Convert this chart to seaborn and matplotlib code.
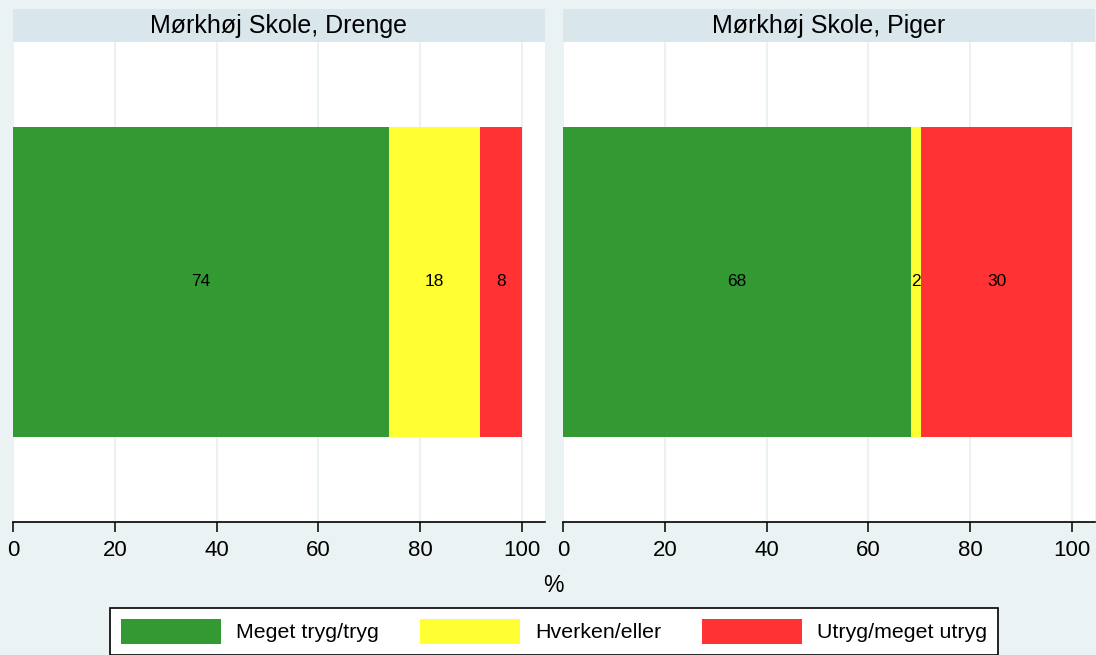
import matplotlib
matplotlib.use("Agg")
import pandas as pd
import seaborn as sns
from matplotlib import pyplot as plt
from matplotlib.patches import Patch

# data
panels = ["Mørkhøj Skole, Drenge", "Mørkhøj Skole, Piger"]
categories = ["Meget tryg/tryg", "Hverken/eller", "Utryg/meget utryg"]
drenge = [73.8, 17.9, 8.3]
piger = [68.4, 1.9, 29.7]
x_ticks = [0, 20, 40, 60, 80, 100]

colors = ["#339933", "#FFFF33", "#FF3333"]
bg = "#EAF2F3"
strip = "#D9E6EB"

sns.set_theme(style="white")
plt.rcParams["font.family"] = ["Liberation Sans", "DejaVu Sans"]
plt.rcParams["text.color"] = "black"
plt.rcParams["xtick.color"] = "black"
plt.rcParams["xtick.labelcolor"] = "black"

W, H = 1096, 655
fig = plt.figure(figsize=(W / 100, H / 100), dpi=100, facecolor=bg)


def fx(px):
    return px / W


def fy(px):
    return 1 - px / H


lefts = [13, 563]
width = 532
top, axis_y = 42, 522

for left, title, vals in zip(lefts, panels, [drenge, piger]):
    ax = fig.add_axes([fx(left), fy(axis_y), fx(width), (axis_y - top) / H])
    df = pd.DataFrame({"kategori": categories, "pct": vals, "gruppe": title})
    df["slut"] = df.pct.cumsum()
    df["midt"] = df.slut - df.pct / 2

    # stacked bars: draw cumulative totals from largest to smallest
    for i in reversed(range(len(df))):
        sns.barplot(data=df.iloc[[i]], x="slut", y="gruppe", color=colors[i],
                    width=0.8, linewidth=0, saturation=1, errorbar=None, ax=ax)
    for _, row in df.iterrows():
        ax.text(row.midt, 0, f"{row.pct:.0f}", ha="center", va="center",
                fontsize=12.5, color="black")

    ax.set_facecolor("white")
    ax.set_xlim(0, 104.5)
    ax.set_ylim(0.619, -0.619)
    ax.set_yticks([])
    ax.set_xticks(x_ticks)
    ax.set_xticklabels([str(t) for t in x_ticks], fontsize=16)
    ax.set_xlabel("")
    ax.set_ylabel("")
    ax.set_axisbelow(True)
    ax.xaxis.grid(True, color=bg, linewidth=1.5)
    ax.tick_params(axis="x", direction="out", length=7, width=1.1,
                   color="black", pad=6, bottom=True)
    for s in ["top", "left", "right"]:
        ax.spines[s].set_visible(False)
    ax.spines["bottom"].set_color("black")
    ax.spines["bottom"].set_linewidth(1.2)

    # title strip
    hax = fig.add_axes([fx(left), fy(top), fx(width), 33 / H])
    hax.set_facecolor(strip)
    hax.set_xticks([])
    hax.set_yticks([])
    for s in hax.spines.values():
        s.set_visible(False)
    hax.text(0.5, 0.5, title, ha="center", va="center", fontsize=18,
             transform=hax.transAxes)

fig.text(fx(553), fy(585), "%", ha="center", va="center", fontsize=16.5)

handles = [Patch(facecolor=c, edgecolor="none") for c in colors]
leg = fig.legend(handles, categories, loc="upper center",
                 bbox_to_anchor=(fx(554), fy(608)), ncol=3, fontsize=15.4,
                 frameon=True, fancybox=False, framealpha=1, edgecolor="black",
                 handlelength=4.67, handleheight=1.45, handletextpad=0.72,
                 columnspacing=1.9, borderaxespad=0, borderpad=0.5)
leg.get_frame().set_linewidth(1.2)

plt.savefig("out.png", dpi=100, facecolor=bg)
